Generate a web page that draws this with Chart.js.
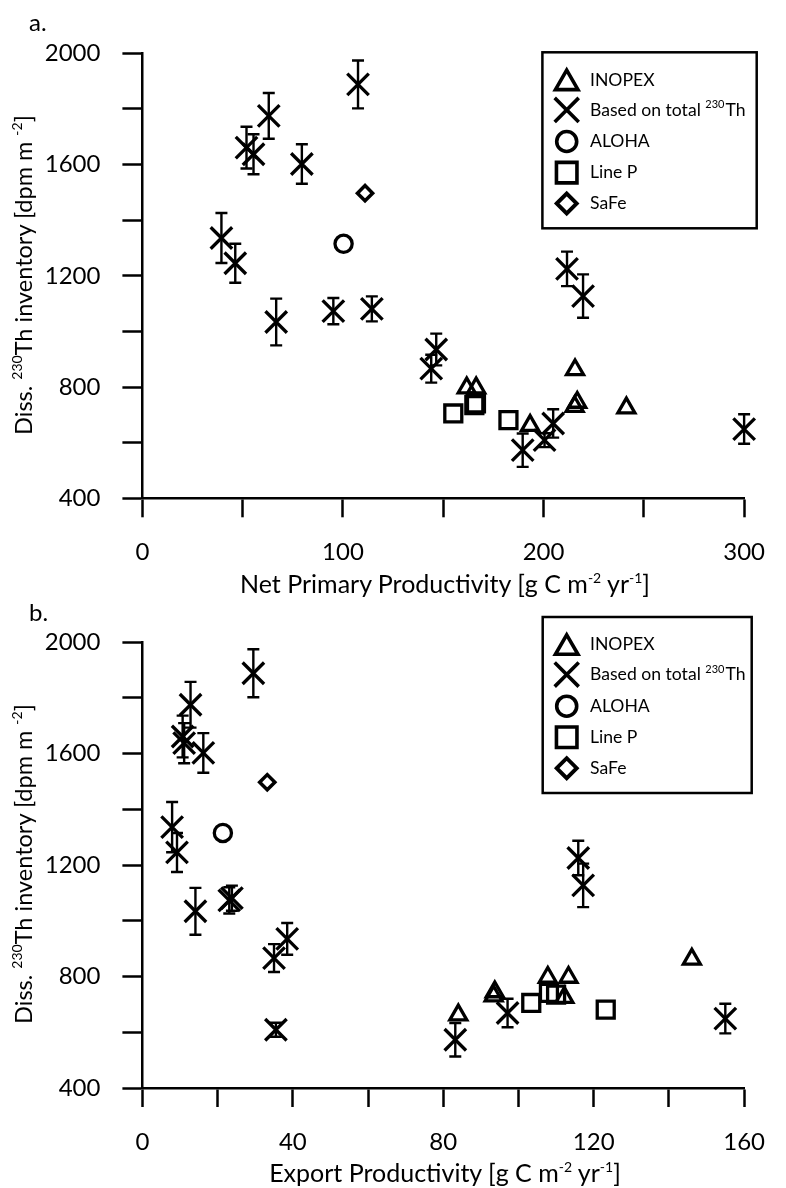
<!DOCTYPE html>
<html>
<head>
<meta charset="utf-8">
<script src="https://cdn.jsdelivr.net/npm/chart.js@4.4.0/dist/chart.umd.min.js"></script>
<style>
html,body{margin:0;padding:0;background:#fff;}
#wrap{position:relative;width:786px;height:1188px;overflow:hidden;font-family:Lato,sans-serif;color:#000;}
canvas{position:absolute;left:0;}
.plab{position:absolute;font-size:24px;line-height:24px;white-space:nowrap;}
.xt{position:absolute;font-size:25px;line-height:25px;white-space:nowrap;transform:translate(-50%,-50%);}
.yt{position:absolute;font-size:23.5px;line-height:24px;white-space:nowrap;transform:translate(-50%,-50%) rotate(-90deg);}
.xt sup,.yt sup{font-size:14px;line-height:0;vertical-align:10px;}
</style>
</head>
<body>
<div id="wrap">
  <canvas id="cA" width="786" height="594" style="top:0;width:786px;height:594px;"></canvas>
  <canvas id="cB" width="786" height="594" style="top:594px;width:786px;height:594px;"></canvas>
  <div class="plab" style="left:29px;top:10px;">a.</div>
  <div class="plab" style="left:29px;top:600px;">b.</div>
  <div class="xt" style="left:445px;top:583px;">Net Primary Productivity [g C m<sup>-2</sup> yr<sup>-1</sup>]</div>
  <div class="xt" style="left:445px;top:1172px;">Export Productivity [g C m<sup>-2</sup> yr<sup>-1</sup>]</div>
  <div class="yt" style="left:23px;top:275px;">Diss. <sup>230</sup>Th inventory [dpm m <sup>-2</sup>]</div>
  <div class="yt" style="left:23px;top:864px;">Diss. <sup>230</sup>Th inventory [dpm m <sup>-2</sup>]</div>
</div>
<script>
// ---------------- DATA ----------------
// Based on total 230Th (with error bars)
const thNpp    = [39.4, 46.3, 51.9, 55.4, 63.0, 66.7, 79.5, 95.2, 107.5, 114.4, 144.0, 146.5, 189.6, 200.5, 204.8, 211.7, 219.7, 300.0];
const thExport = [7.9, 9.2, 10.7, 11.1, 12.8, 14.1, 16.2, 23.1, 29.5, 23.8, 35.0, 38.5, 83.2, 35.5, 97.1, 115.9, 117.2, 155.0];
const thInv    = [1336, 1245, 1661, 1637, 1775, 1034, 1602, 1073, 1888, 1081, 866, 935, 573, 609, 669, 1225, 1127, 649];
const thErr    = [90, 70, 75, 72, 82, 84, 71, 47, 86, 45, 50, 57, 60, 25, 51, 62, 78, 53];
// INOPEX
const inopexNpp    = [161.7, 166.4, 193.3, 215.7, 216.8, 215.5, 241.3];
const inopexExport = [107.8, 113.3, 84.0, 146.1, 93.7, 93.4, 112.2];
const inopexInv    = [797, 797, 662, 862, 745, 730, 725];
// ALOHA
const alohaNpp = [100.3];
const alohaExport = [21.4];
const alohaInv = [1315];
// Line P
const linePNpp    = [155.0, 166.3, 165.5, 182.5];
const linePExport = [103.4, 108.1, 110.0, 123.2];
const linePInv    = [705, 741, 735, 681];
// SaFe
const safeNpp = [111.0];
const safeExport = [33.2];
const safeInv = [1497];
// Ticks
const nppTicks = [0, 50, 100, 150, 200, 250, 300];
const nppTickLabels = [0, 100, 200, 300];
const exportTicks = [0, 20, 40, 60, 80, 100, 120, 140, 160];
const exportTickLabels = [0, 40, 80, 120, 160];
const invTicks = [400, 600, 800, 1000, 1200, 1400, 1600, 1800, 2000];
const invTickLabels = [400, 800, 1200, 1600, 2000];
// Legend
const legendNames = ['INOPEX', 'Based on total ', 'ALOHA', 'Line P', 'SaFe'];

// ---------------- HELPERS ----------------
const pts = (xs, ys) => xs.map((x, i) => ({x: x, y: ys[i]}));

function datasets(xInopex, xTh, xAloha, xLineP, xSafe) {
  const base = {showLine: false, clip: false, borderColor: '#000', backgroundColor: 'rgba(0,0,0,0)', pointBackgroundColor: 'rgba(0,0,0,0)', pointBorderColor: '#000'};
  return [
    Object.assign({}, base, {label: 'INOPEX', data: pts(xInopex, inopexInv), pointStyle: 'triangle', pointRadius: 9.8, pointBorderWidth: 3.3}),
    Object.assign({}, base, {label: 'Based on total 230Th', data: pts(xTh, thInv), errors: thErr, pointStyle: 'crossRot', pointRadius: 15.2, pointBorderWidth: 3.3}),
    Object.assign({}, base, {label: 'ALOHA', data: pts(xAloha, alohaInv), pointStyle: 'circle', pointRadius: 8.6, pointBorderWidth: 3.3}),
    Object.assign({}, base, {label: 'Line P', data: pts(xLineP, linePInv), pointStyle: 'rect', pointRadius: 12, pointBorderWidth: 3.3}),
    Object.assign({}, base, {label: 'SaFe', data: pts(xSafe, safeInv), pointStyle: 'rectRot', pointRadius: 7.6, pointBorderWidth: 3.5})
  ];
}

const errorBars = {
  id: 'errorBars',
  afterDatasetsDraw(chart) {
    const ctx = chart.ctx, xs = chart.scales.x, ys = chart.scales.y;
    ctx.save();
    ctx.strokeStyle = '#000';
    ctx.lineWidth = 2.4;
    chart.data.datasets.forEach(ds => {
      if (!ds.errors) return;
      ds.data.forEach((p, i) => {
        const e = ds.errors[i];
        const px = xs.getPixelForValue(p.x);
        const yTop = ys.getPixelForValue(p.y + e);
        const yBot = ys.getPixelForValue(p.y - e);
        ctx.beginPath();
        ctx.moveTo(px, yTop); ctx.lineTo(px, yBot);
        ctx.moveTo(px - 6, yTop); ctx.lineTo(px + 6, yTop);
        ctx.moveTo(px - 6, yBot); ctx.lineTo(px + 6, yBot);
        ctx.stroke();
      });
    });
    ctx.restore();
  }
};

const boxLegend = {
  id: 'boxLegend',
  afterDraw(chart, args, opts) {
    const ctx = chart.ctx;
    const b = opts.box;
    ctx.save();
    ctx.strokeStyle = '#000';
    ctx.lineWidth = 2.5;
    ctx.strokeRect(b[0], b[1], b[2] - b[0], b[3] - b[1]);
    const styles = [
      {pointStyle: 'triangle', radius: 13, borderWidth: 3.6, rotation: 0},
      {pointStyle: 'crossRot', radius: 17, borderWidth: 3.6, rotation: 0},
      {pointStyle: 'circle', radius: 10, borderWidth: 3.6, rotation: 0},
      {pointStyle: 'rect', radius: 14.5, borderWidth: 3.6, rotation: 0},
      {pointStyle: 'rectRot', radius: 10, borderWidth: 3.9, rotation: 0}
    ];
    const rowOff = [27.8, 57.6, 89.2, 120.3, 151.2];
    styles.forEach((s, i) => {
      const y = b[1] + rowOff[i] + (s.pointStyle === 'triangle' ? 3 : 0);
      ctx.lineWidth = s.borderWidth;
      ctx.fillStyle = 'rgba(0,0,0,0)';
      Chart.helpers.drawPoint(ctx, s, opts.markerX, y);
    });
    ctx.fillStyle = '#000';
    ctx.textBaseline = 'middle';
    ctx.textAlign = 'left';
    legendNames.forEach((name, i) => {
      const y = b[1] + rowOff[i];
      ctx.font = '17.6px Lato';
      ctx.fillText(name, opts.textX, y);
      if (i === 1) {
        let x = opts.textX + ctx.measureText(name).width;
        ctx.font = '11px Lato';
        ctx.fillText('230', x, y - 5);
        x += ctx.measureText('230').width + 1;
        ctx.font = '17.6px Lato';
        ctx.fillText('Th', x, y);
      }
    });
    ctx.restore();
  }
};

function makeChart(id, cfg) {
  const xTicks = cfg.xTicks, xLabels = cfg.xLabels;
  return new Chart(document.getElementById(id), {
    type: 'scatter',
    data: {datasets: cfg.datasets},
    options: {
      responsive: false,
      animation: false,
      devicePixelRatio: 1,
      layout: {padding: {top: cfg.padTop, left: 0, right: 19.3, bottom: 0}},
      plugins: {
        legend: {display: false},
        tooltip: {enabled: false},
        boxLegend: {box: cfg.legendBox, markerX: 566.7, textX: 590}
      },
      scales: {
        x: {
          type: 'linear',
          min: xTicks[0], max: xTicks[xTicks.length - 1],
          afterBuildTicks: s => { s.ticks = xTicks.map(v => ({value: v})); },
          ticks: {
            autoSkip: false, maxRotation: 0, color: '#000', padding: 21,
            font: {family: 'Lato', size: 24},
            callback: v => xLabels.includes(v) ? String(v) : ''
          },
          grid: {drawOnChartArea: false, drawTicks: true, tickLength: 19, tickWidth: 2.5, tickColor: '#000'},
          border: {display: true, color: '#000', width: 2.5},
          afterFit: s => { s.height = cfg.xAxisHeight; }
        },
        y: {
          type: 'linear',
          min: 400, max: 2000,
          afterBuildTicks: s => { s.ticks = invTicks.map(v => ({value: v})); },
          ticks: {
            autoSkip: false, color: '#000', padding: 22,
            font: {family: 'Lato', size: 24},
            callback: v => invTickLabels.includes(v) ? String(v) : ''
          },
          grid: {drawOnChartArea: false, drawTicks: true, tickLength: 20, tickWidth: 2.5, tickColor: '#000'},
          border: {display: true, color: '#000', width: 2.5},
          afterFit: s => { s.width = 142.4; }
        }
      }
    },
    plugins: [errorBars, boxLegend]
  });
}

function build() {
  makeChart('cA', {
    datasets: datasets(inopexNpp, thNpp, alohaNpp, linePNpp, safeNpp),
    xTicks: nppTicks, xLabels: nppTickLabels,
    padTop: 53.3, xAxisHeight: 594 - 498.3,
    legendBox: [542.4, 52.3, 756.7, 228.3]
  });
  makeChart('cB', {
    datasets: datasets(inopexExport, thExport, alohaExport, linePExport, safeExport),
    xTicks: exportTicks, xLabels: exportTickLabels,
    padTop: 48, xAxisHeight: 594 - 494,
    legendBox: [542.7, 23, 751.7, 199]
  });
}
if (document.fonts && document.fonts.load) {
  Promise.all([document.fonts.load('24px Lato'), document.fonts.load('18px Lato')]).then(build, build);
} else { build(); }
</script>
</body>
</html>
